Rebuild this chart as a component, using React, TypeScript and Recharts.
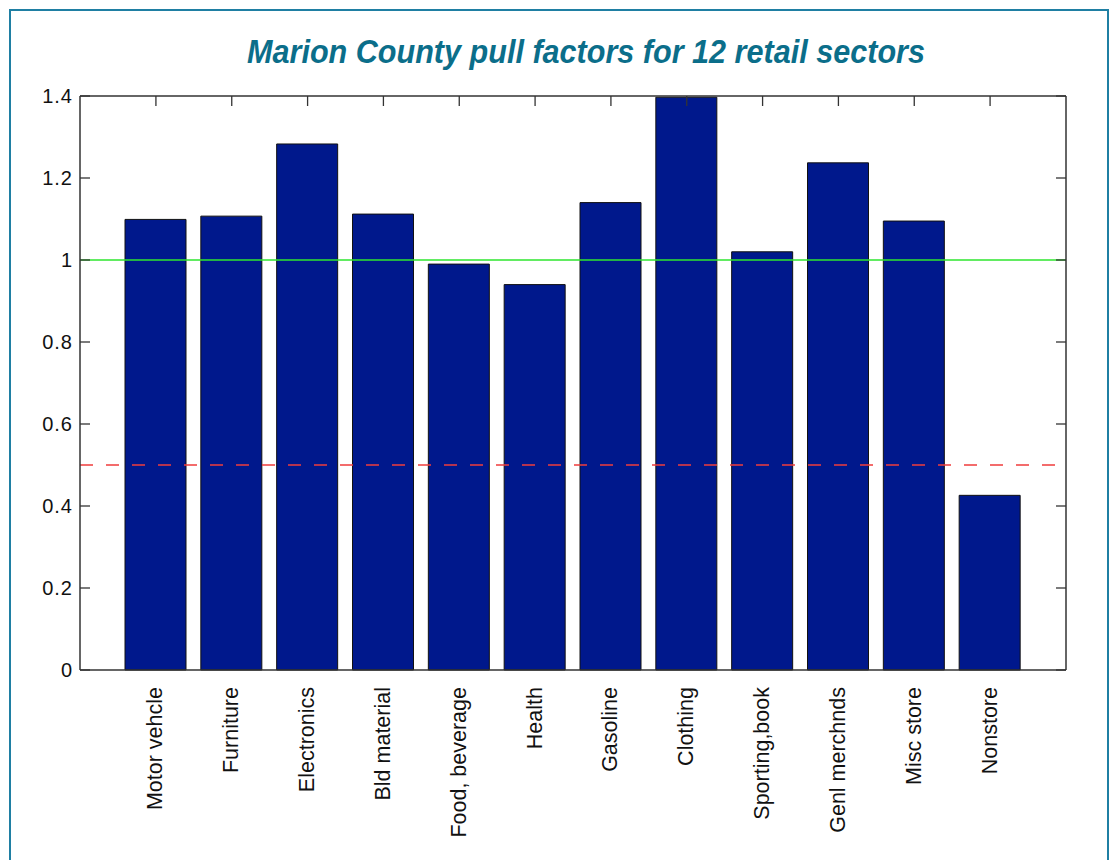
import { Bar, ComposedChart, Line, ReferenceLine, XAxis, YAxis } from "recharts";

const sectors = [
  "Motor vehcle",
  "Furniture",
  "Electronics",
  "Bld material",
  "Food, beverage",
  "Health",
  "Gasoline",
  "Clothing",
  "Sporting,book",
  "Genl merchnds",
  "Misc store",
  "Nonstore",
];
const pullFactors = [
  1.099, 1.107, 1.283, 1.112, 0.99, 0.94, 1.14, 1.397, 1.02, 1.237, 1.095,
  0.426,
];
const yTicks = [0, 0.2, 0.4, 0.6, 0.8, 1, 1.2, 1.4];
const parityLevel = 1;
const lowLevel = 0.5;

const data = sectors.map((name, i) => ({ name, value: pullFactors[i] }));

const font = "'Liberation Sans', Arial, Helvetica, sans-serif";
const axisColor = "#333";

const YTick = (props: any) => {
  const { x, y, payload } = props;
  return (
    <g>
      <line x1={x} x2={x + 10} y1={y} y2={y} stroke={axisColor} strokeWidth={1.3} />
      <text
        x={x - 7}
        y={y}
        dy="0.36em"
        textAnchor="end"
        fontSize={20}
        letterSpacing={1}
        fontFamily={font}
        fill="#111"
      >
        {String(payload.value)}
      </text>
    </g>
  );
};

// inward tick marks on the right-hand frame
const RightTick = (props: any) => {
  const { x, y } = props;
  return <line x1={x} x2={x - 10} y1={y} y2={y} stroke={axisColor} strokeWidth={1.3} />;
};

// inward tick marks on the top frame
const TopTick = (props: any) => {
  const { x, y } = props;
  return <line x1={x} x2={x} y1={y} y2={y + 10} stroke={axisColor} strokeWidth={1.3} />;
};

const XTick = (props: any) => {
  const { x, y, payload } = props;
  return (
    <text
      transform={`translate(${x},${y + 17}) rotate(-90)`}
      dy="0.3em"
      textAnchor="end"
      fontSize={21.5}
      fontFamily={font}
      fill="#111"
    >
      {payload.value}
    </text>
  );
};

export default function App() {
  return (
    <div>
      <div
        style={{
          position: "absolute",
          left: 9,
          top: 9,
          width: 1100,
          height: 851,
          boxSizing: "border-box",
          border: "2px solid #1f7fa3",
          borderBottom: "none",
          background: "#fff",
        }}
      />
      <svg
        width={1110}
        height={90}
        style={{ position: "absolute", left: 0, top: 0 }}
      >
        <text
          x={586}
          y={63}
          textAnchor="middle"
          textLength={678}
          lengthAdjust="spacingAndGlyphs"
          fontSize={34}
          fontWeight="bold"
          fontStyle="italic"
          fontFamily={font}
          fill="#0b6e8a"
        >
          Marion County pull factors for 12 retail sectors
        </text>
      </svg>
      <div style={{ position: "absolute", left: 0, top: 0 }}>
        <ComposedChart
          width={1110}
          height={860}
          data={data}
          margin={{ top: 95, right: 43, left: 20, bottom: 20 }}
        >
          <XAxis
            dataKey="name"
            type="category"
            interval={0}
            height={170}
            padding={{ left: 38, right: 38 }}
            axisLine={{ stroke: axisColor, strokeWidth: 1.5 }}
            tickLine={false}
            tickSize={0}
            tickMargin={0}
            tick={<XTick />}
          />
          <XAxis
            xAxisId="top"
            dataKey="name"
            type="category"
            orientation="top"
            interval={0}
            height={1}
            padding={{ left: 38, right: 38 }}
            axisLine={{ stroke: axisColor, strokeWidth: 1.5 }}
            tickLine={false}
            tickSize={0}
            tickMargin={0}
            tick={<TopTick />}
          />
          <YAxis
            type="number"
            domain={[0, 1.4]}
            ticks={yTicks}
            width={60}
            axisLine={{ stroke: axisColor, strokeWidth: 1.5 }}
            tickLine={false}
            tickSize={0}
            tickMargin={0}
            tick={<YTick />}
          />
          <YAxis
            yAxisId="right"
            type="number"
            orientation="right"
            domain={[0, 1.4]}
            ticks={yTicks}
            width={1}
            axisLine={{ stroke: axisColor, strokeWidth: 1.5 }}
            tickLine={false}
            tickSize={0}
            tickMargin={0}
            tick={<RightTick />}
          />
          <Bar
            dataKey="value"
            barSize={61}
            fill="#00188c"
            stroke="#111"
            strokeWidth={1}
            isAnimationActive={false}
          />
          <Line
            xAxisId="top"
            yAxisId="right"
            dataKey="value"
            stroke="none"
            dot={false}
            activeDot={false}
            legendType="none"
            isAnimationActive={false}
          />
          <ReferenceLine y={parityLevel} stroke="#2ee62e" strokeWidth={1.6} />
          <ReferenceLine
            y={lowLevel}
            stroke="#f03c3c"
            strokeWidth={1.6}
            strokeDasharray="13 13"
          />
        </ComposedChart>
      </div>
    </div>
  );
}
